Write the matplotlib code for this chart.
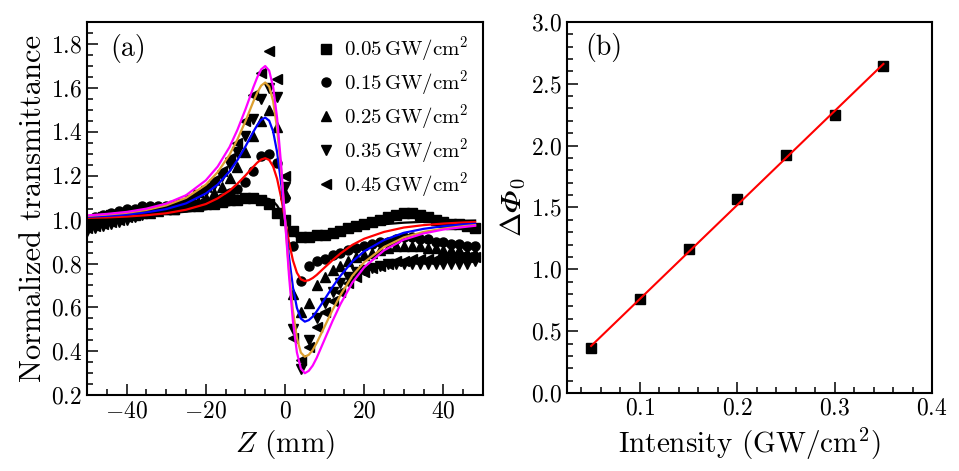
import matplotlib
matplotlib.use("Agg")
import matplotlib.pyplot as plt
from matplotlib.ticker import MultipleLocator

plt.rcParams['font.family'] = 'serif'
plt.rcParams['font.serif'] = ['cmr10']
plt.rcParams['mathtext.fontset'] = 'cm'
plt.rcParams['axes.formatter.use_mathtext'] = True
plt.rcParams['axes.unicode_minus'] = True

# (a) donnees Z-scan
z = [-50, -48, -46, -44, -42, -40, -38, -36, -34, -32, -30, -28, -26, -24, -22,
     -20, -18, -16, -14, -12, -10, -8, -6, -4, -2, 0, 2, 4, 6, 8, 10, 12, 14,
     16, 18, 20, 22, 24, 26, 28, 30, 32, 34, 36, 38, 40, 42, 44, 46, 48]

t_005 = [0.99, 1.00, 1.01, 1.02, 1.02, 1.03, 1.03, 1.04, 1.04, 1.05, 1.05, 1.05, 1.06, 1.06, 1.06,
         1.07, 1.07, 1.08, 1.09, 1.09, 1.10, 1.10, 1.09, 1.07, 1.03, 1.00, 0.95, 0.92, 0.92, 0.93,
         0.93, 0.94, 0.95, 0.96, 0.97, 0.98, 0.99, 1.00, 1.01, 1.02, 1.03, 1.03, 1.02, 1.01, 1.00,
         0.99, 0.98, 0.98, 0.97, 0.96]
t_015 = [1.00, 1.01, 1.02, 1.03, 1.04, 1.05, 1.05, 1.06, 1.06, 1.06, 1.06, 1.06, 1.06, 1.07, 1.07,
         1.08, 1.09, 1.10, 1.12, 1.14, 1.17, 1.22, 1.29, 1.30, 1.26, 1.10, 0.88, 0.72, 0.79, 0.81,
         0.82, 0.84, 0.85, 0.86, 0.87, 0.88, 0.89, 0.90, 0.90, 0.91, 0.92, 0.92, 0.91, 0.91, 0.90,
         0.90, 0.89, 0.89, 0.88, 0.88]
t_025 = [0.97, 0.98, 0.99, 1.00, 1.01, 1.02, 1.02, 1.03, 1.03, 1.04, 1.05, 1.05, 1.06, 1.07, 1.08,
         1.10, 1.12, 1.15, 1.19, 1.24, 1.31, 1.38, 1.45, 1.50, 1.42, 1.12, 0.66, 0.58, 0.62, 0.70,
         0.74, 0.77, 0.79, 0.81, 0.83, 0.84, 0.85, 0.86, 0.87, 0.88, 0.88, 0.88, 0.88, 0.87, 0.87,
         0.86, 0.86, 0.86, 0.85, 0.85]
t_035 = [0.95, 0.96, 0.97, 0.98, 0.99, 1.00, 1.01, 1.02, 1.03, 1.04, 1.05, 1.06, 1.07, 1.09, 1.11,
         1.13, 1.16, 1.20, 1.25, 1.31, 1.38, 1.46, 1.55, 1.60, 1.56, 1.15, 0.50, 0.32, 0.45, 0.55,
         0.62, 0.67, 0.71, 0.74, 0.76, 0.77, 0.78, 0.79, 0.80, 0.80, 0.80, 0.80, 0.80, 0.80, 0.80,
         0.80, 0.80, 0.80, 0.80, 0.81]
t_045 = [0.96, 0.97, 0.98, 0.99, 1.00, 1.01, 1.02, 1.03, 1.04, 1.05, 1.06, 1.07, 1.08, 1.10, 1.12,
         1.15, 1.18, 1.22, 1.28, 1.35, 1.45, 1.57, 1.67, 1.77, 1.64, 1.20, 0.46, 0.36, 0.42, 0.51,
         0.58, 0.63, 0.67, 0.71, 0.74, 0.76, 0.78, 0.79, 0.80, 0.81, 0.81, 0.82, 0.82, 0.82, 0.82,
         0.83, 0.83, 0.83, 0.83, 0.83]

# courbes d'ajustement
z_fit = [-50, -45, -40, -35, -30, -25, -20, -17, -14, -12, -10, -9, -8, -7, -6, -5, -4, -3, -2, -1,
         0, 1, 2, 3, 4, 5, 6, 7, 8, 9, 10, 12, 14, 17, 20, 25, 30, 35, 40, 45, 48]
fit_005 = [1.010, 1.013, 1.017, 1.022, 1.028, 1.036, 1.047, 1.056, 1.066, 1.074, 1.083, 1.087, 1.091,
           1.094, 1.096, 1.097, 1.094, 1.084, 1.064, 1.035, 1.000, 0.966, 0.938, 0.920, 0.911, 0.908,
           0.909, 0.912, 0.916, 0.921, 0.926, 0.937, 0.947, 0.959, 0.969, 0.979, 0.986, 0.990, 0.993,
           0.995, 0.996]
fit_015 = [1.008, 1.010, 1.014, 1.020, 1.029, 1.045, 1.071, 1.097, 1.132, 1.164, 1.201, 1.221, 1.241,
           1.260, 1.274, 1.280, 1.272, 1.242, 1.186, 1.102, 1.000, 0.898, 0.814, 0.758, 0.728, 0.720,
           0.724, 0.734, 0.748, 0.765, 0.782, 0.815, 0.846, 0.885, 0.913, 0.944, 0.964, 0.975, 0.982,
           0.987, 0.989]
fit_025 = [1.013, 1.017, 1.023, 1.033, 1.048, 1.074, 1.119, 1.160, 1.220, 1.272, 1.333, 1.367, 1.400,
           1.431, 1.455, 1.465, 1.451, 1.402, 1.308, 1.169, 1.000, 0.831, 0.692, 0.598, 0.549, 0.535,
           0.542, 0.558, 0.582, 0.609, 0.637, 0.693, 0.744, 0.809, 0.856, 0.907, 0.940, 0.958, 0.970,
           0.978, 0.981]
fit_035 = [1.017, 1.023, 1.031, 1.044, 1.065, 1.099, 1.159, 1.216, 1.296, 1.366, 1.448, 1.493, 1.538,
           1.579, 1.611, 1.625, 1.606, 1.540, 1.414, 1.227, 1.000, 0.773, 0.586, 0.460, 0.394, 0.375,
           0.384, 0.406, 0.438, 0.475, 0.513, 0.588, 0.656, 0.744, 0.806, 0.875, 0.919, 0.944, 0.959,
           0.970, 0.975]
fit_045 = [1.019, 1.026, 1.035, 1.050, 1.073, 1.111, 1.179, 1.242, 1.331, 1.410, 1.502, 1.552, 1.603,
           1.649, 1.685, 1.700, 1.679, 1.605, 1.464, 1.254, 1.000, 0.746, 0.536, 0.395, 0.321, 0.300,
           0.311, 0.335, 0.370, 0.412, 0.454, 0.538, 0.615, 0.713, 0.783, 0.860, 0.909, 0.937, 0.955,
           0.966, 0.972]

# (b) dephasage en fonction de l'intensite
intensite = [0.05, 0.10, 0.15, 0.20, 0.25, 0.30, 0.35]
dphi = [0.36, 0.76, 1.16, 1.57, 1.92, 2.25, 2.64]
fit_x = [0.05, 0.35]
fit_y = [0.38, 2.66]

series = [(t_005, 's', '0.05'), (t_015, 'o', '0.15'), (t_025, '^', '0.25'),
          (t_035, 'v', '0.35'), (t_045, '<', '0.45')]
fits = [(fit_005, 'black'), (fit_015, 'red'), (fit_025, 'blue'),
        (fit_035, '#DDA030'), (fit_045, '#FF00FF')]

fig = plt.figure(figsize=(9.59, 4.71), dpi=100)
ax1 = fig.add_axes([0.0907, 0.161, 0.413, 0.792])
ax2 = fig.add_axes([0.591, 0.1656, 0.381, 0.788])

for vals, m, lab in series:
    ax1.plot(z, vals, linestyle='none', marker=m, color='black', markersize=6.5,
             label=lab + r'$\,\mathrm{GW/cm^2}$')
for vals, c in fits:
    ax1.plot(z_fit, vals, color=c, linewidth=1.6)

ax1.set_xlim(-50, 50)
ax1.set_ylim(0.2, 1.9)
ax1.xaxis.set_major_locator(MultipleLocator(20))
ax1.xaxis.set_minor_locator(MultipleLocator(5))
ax1.yaxis.set_major_locator(MultipleLocator(0.2))
ax1.yaxis.set_minor_locator(MultipleLocator(0.05))
ax1.set_xlabel(r'$Z$ (mm)', fontsize=21)
ax1.set_ylabel('Normalized transmittance', fontsize=22, labelpad=3)
ax1.text(0.06, 0.93, '(a)', transform=ax1.transAxes, fontsize=20, va='center')
ax1.legend(loc='upper right', frameon=False, fontsize=15, handletextpad=0.35,
           borderaxespad=0.2, labelspacing=0.22, handlelength=1.0,
           bbox_to_anchor=(0.995, 1.0))

ax2.plot(intensite, dphi, linestyle='none', marker='s', color='black', markersize=6.5)
ax2.plot(fit_x, fit_y, color='red', linewidth=1.5)
ax2.set_xlim(0.025, 0.4)
ax2.set_ylim(0, 3.0)
ax2.xaxis.set_major_locator(MultipleLocator(0.1))
ax2.xaxis.set_minor_locator(MultipleLocator(0.02))
ax2.yaxis.set_major_locator(MultipleLocator(0.5))
ax2.yaxis.set_minor_locator(MultipleLocator(0.1))
ax2.set_xlabel(r'Intensity (GW/cm$^2$)', fontsize=21)
ax2.set_ylabel(r'$\Delta\mathrm{' + '\U0001D6F7' + r'}_0$', fontsize=21, labelpad=2)
ax2.text(0.05, 0.93, '(b)', transform=ax2.transAxes, fontsize=20, va='center')

for ax in (ax1, ax2):
    ax.tick_params(which='both', direction='in', top=False, right=False,
                   labelsize=17, width=1.1)
    ax.tick_params(which='major', length=8)
    ax.tick_params(which='minor', length=4.5)
    for s in ax.spines.values():
        s.set_linewidth(1.5)

fig.savefig('out.png', dpi=100)
